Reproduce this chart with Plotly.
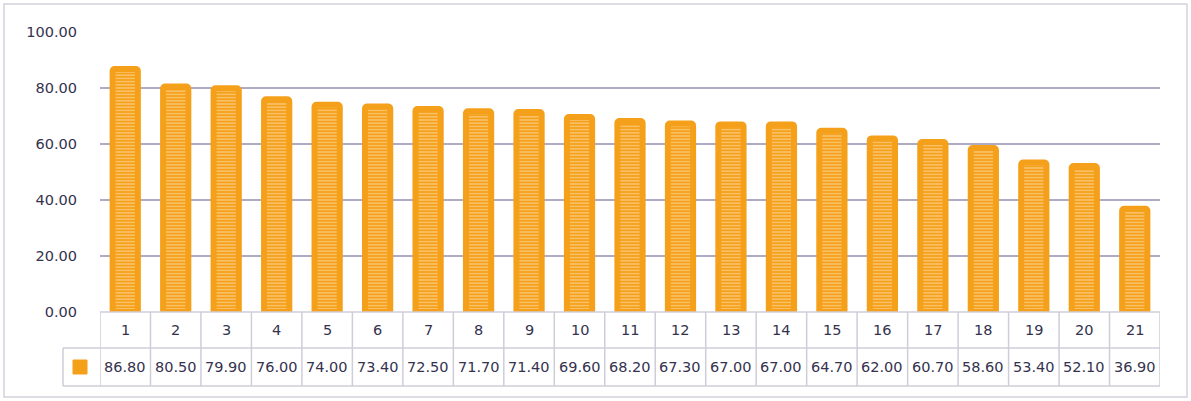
import plotly.graph_objects as go

categories = [str(i) for i in range(1, 22)]
values = [86.80, 80.50, 79.90, 76.00, 74.00, 73.40, 72.50, 71.70, 71.40, 69.60,
          68.20, 67.30, 67.00, 67.00, 64.70, 62.00, 60.70, 58.60, 53.40, 52.10, 36.90]
y_ticks = [0, 20, 40, 60, 80, 100]

ORANGE = "#f5a01a"
TEXT = "#35324f"
GRID = "#aeabc2"
TABLE_LINE = "#cfcdd9"

W, H = 1191, 401
L, R, T, B = 100, 31, 32, 89
PW, PH = W - L - R, H - T - B


def px_x(p):
    return (p - L) / PW


def px_y(p):
    return (H - B - p) / PH


FONT = dict(family="DejaVu Sans", size=14.5, color=TEXT)

x_pos = list(range(1, len(categories) + 1))

fig = go.Figure(
    go.Bar(
        x=x_pos,
        y=values,
        width=0.5,
        marker=dict(
            color=ORANGE,
            line=dict(color=ORANGE, width=6),
            cornerradius=2,
            pattern=dict(shape="-", fgcolor="#fff1d6", bgcolor=ORANGE,
                         size=3.2, solidity=0.4),
        ),
        hovertemplate="%{x}: %{y:.2f}<extra></extra>",
    )
)

shapes = []
annotations = []

row1_top, row1_bot, row2_bot = px_y(312), px_y(348), px_y(386)
key_left = px_x(63)

# table grid
shapes.append(dict(type="line", xref="paper", yref="paper", x0=0, x1=1,
                   y0=row1_top, y1=row1_top, line=dict(color=TABLE_LINE, width=1.5)))
for yy in (row1_bot, row2_bot):
    shapes.append(dict(type="line", xref="paper", yref="paper", x0=key_left, x1=1,
                       y0=yy, y1=yy, line=dict(color=TABLE_LINE, width=1.5)))
shapes.append(dict(type="line", xref="paper", yref="paper", x0=key_left, x1=key_left,
                   y0=row1_bot, y1=row2_bot, line=dict(color=TABLE_LINE, width=1.5)))
for i in range(len(categories) + 1):
    shapes.append(dict(type="line", xref="x", yref="paper", x0=i + 0.5, x1=i + 0.5,
                       y0=row1_top, y1=row2_bot, line=dict(color=TABLE_LINE, width=1.5)))

# legend key
shapes.append(dict(type="rect", xref="paper", yref="paper",
                   x0=px_x(73), x1=px_x(87), y0=px_y(374), y1=px_y(360),
                   fillcolor=ORANGE, line=dict(color=ORANGE, width=1)))

# outer frame
shapes.append(dict(type="rect", xref="paper", yref="paper",
                   x0=px_x(4), x1=px_x(1187), y0=px_y(397), y1=px_y(4),
                   line=dict(color="#d4d2dc", width=1.5)))

for xp, cat, val in zip(x_pos, categories, values):
    annotations.append(dict(x=xp, y=(row1_top + row1_bot) / 2, xref="x", yref="paper",
                            text=cat, showarrow=False, font=FONT, yanchor="middle"))
    annotations.append(dict(x=xp, y=(row1_bot + row2_bot) / 2, xref="x", yref="paper",
                            text=f"{val:.2f}", showarrow=False, font=FONT, yanchor="middle"))

fig.update_layout(
    width=W,
    height=H,
    margin=dict(l=L, r=R, t=T, b=B),
    paper_bgcolor="white",
    plot_bgcolor="white",
    showlegend=False,
    shapes=shapes,
    annotations=annotations,
    xaxis=dict(range=[0.5, len(categories) + 0.5], showticklabels=False,
               showgrid=False, zeroline=False, showline=False, fixedrange=True),
    yaxis=dict(range=[0, 100], tickvals=y_ticks, tickformat=".2f",
               showgrid=True, gridcolor=GRID, gridwidth=1.5, zeroline=False,
               showline=False, ticks="", ticklabelstandoff=22,
               tickfont=FONT, fixedrange=True),
)

# the page is photographed at exactly the figure size, so drop the body margin
fig.write_html("out.html", config={"displayModeBar": False},
               post_script="document.body.style.margin='0';")
